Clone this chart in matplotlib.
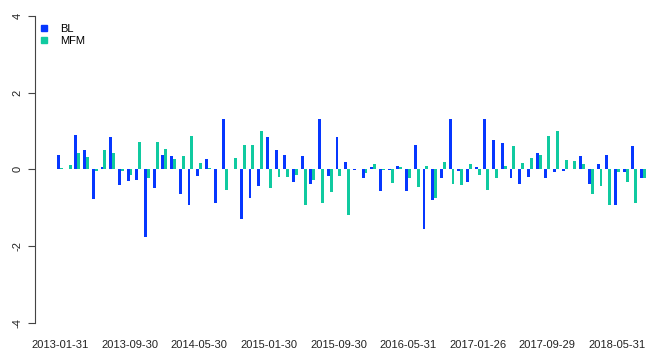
import matplotlib
matplotlib.use("Agg")
import matplotlib.pyplot as plt
from matplotlib.lines import Line2D

plt.rcParams["font.family"] = ["Liberation Sans", "DejaVu Sans"]

# monthly values, 2013-01 .. 2018-08
bl = [0.38, 0.01, 0.90, 0.50, -0.77, 0.05, 0.85, -0.41, -0.30, -0.28,
      -1.75, -0.49, 0.37, 0.35, -0.65, -0.93, -0.18, 0.27, -0.88, 1.31,
      0.00, -1.30, -0.75, -0.44, 0.85, 0.50, 0.38, -0.33, 0.35, -0.37,
      1.31, -0.17, 0.83, 0.20, -0.02, -0.23, 0.06, -0.57, -0.02, 0.10,
      -0.57, 0.64, -1.56, -0.79, -0.23, 1.31, -0.03, -0.33, 0.06, 1.30,
      0.76, 0.69, -0.23, -0.38, -0.20, 0.43, -0.23, -0.06, -0.04, 0.00,
      0.34, -0.39, 0.13, 0.38, -0.93, -0.06, 0.60, -0.23]
mfm = [0.03, 0.12, 0.43, 0.31, -0.05, 0.50, 0.42, -0.05, -0.14, 0.70,
       -0.23, 0.70, 0.52, 0.27, 0.35, 0.88, 0.16, 0.03, 0.02, -0.54,
       0.30, 0.64, 0.64, 0.99, -0.49, -0.21, -0.21, -0.15, -0.93, -0.28,
       -0.88, -0.60, -0.17, -1.18, 0.00, -0.10, 0.13, -0.02, -0.36, 0.05,
       -0.22, -0.45, 0.10, -0.75, 0.20, -0.37, -0.41, 0.15, -0.14, -0.53,
       -0.23, 0.10, 0.60, 0.17, 0.29, 0.37, 0.86, 0.99, 0.24, 0.22,
       0.13, -0.63, -0.43, -0.93, -0.06, -0.33, -0.88, -0.23]

date_labels = ["2013-01-31", "2013-09-30", "2014-05-30", "2015-01-30",
               "2015-09-30", "2016-05-31", "2017-01-26", "2017-09-29",
               "2018-05-31"]
label_step = 8

c_bl = "#0637FF"
c_mfm = "#10CAA0"

fig = plt.figure(figsize=(6.57, 3.54), dpi=100)
ax = fig.add_axes([35 / 657, 31 / 354, 615 / 657, 307.3 / 354])

n = len(bl)
x_bl = [3 * k + 1.5 for k in range(n)]
x_mfm = [3 * k + 2.5 for k in range(n)]
ax.bar(x_bl, bl, width=1.0, color=c_bl, linewidth=0)
ax.bar(x_mfm, mfm, width=1.0, color=c_mfm, linewidth=0)

ax.set_xlim(-6.6, 205.4)
ax.set_ylim(-4, 4)

for s in ["top", "right", "bottom"]:
    ax.spines[s].set_visible(False)
ax.spines["left"].set_color("#444444")
ax.spines["left"].set_bounds(-4, 4)

ax.set_yticks([-4, -2, 0, 2, 4])
ax.set_yticklabels(["-4", "-2", "0", "2", "4"], rotation=90, va="center")
ax.tick_params(axis="y", length=5, width=0.8, color="#444444",
               labelsize=8, labelcolor="#222222", pad=4)

ax.set_xticks([3 * (i * label_step) + 2 for i in range(len(date_labels))])
ax.set_xticklabels(date_labels)
ax.tick_params(axis="x", length=0, labelsize=8, labelcolor="#222222", pad=12)

handles = [Line2D([], [], marker="s", linestyle="none", markersize=4, color=c_bl),
           Line2D([], [], marker="s", linestyle="none", markersize=4, color=c_mfm)]
fig.legend(handles, ["BL", "MFM"], loc="upper left",
           bbox_to_anchor=(40 / 657, 1 - 24 / 354), frameon=False,
           fontsize=8, handlelength=0.8, handletextpad=1.0,
           labelspacing=0.2, borderaxespad=0, borderpad=0)

fig.savefig("out.png", dpi=100)
